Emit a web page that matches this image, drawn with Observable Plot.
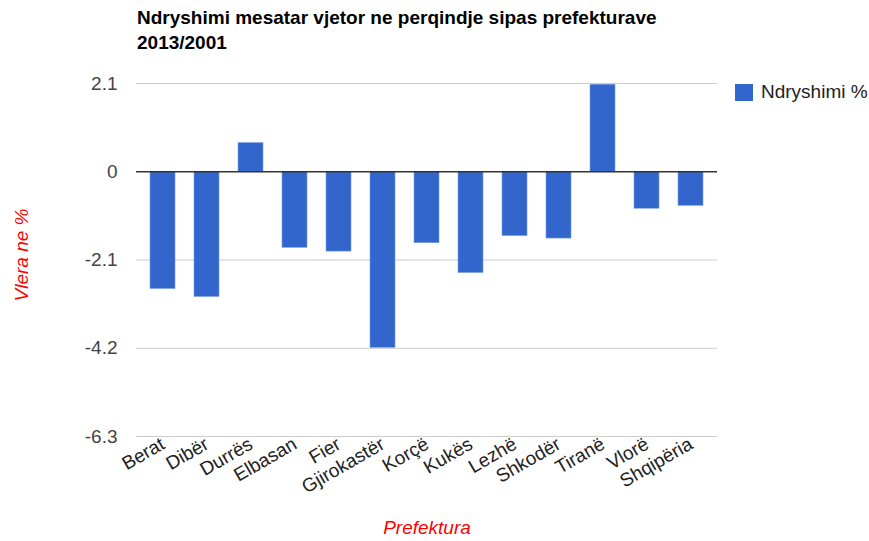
<!DOCTYPE html>
<html>
<head>
<meta charset="utf-8">
<script src="https://cdn.jsdelivr.net/npm/d3@7"></script>
<script src="https://cdn.jsdelivr.net/npm/@observablehq/plot@0.6"></script>
<style>
  html, body { margin: 0; padding: 0; background: #fff; }
  #wrap { position: relative; width: 869px; height: 541px; font-family: "Liberation Sans", Arial, sans-serif; }
  #title { position: absolute; left: 137px; top: 5px; font-size: 19px; font-weight: bold; line-height: 25px; color: #000; }
  #legend { position: absolute; left: 735px; top: 81px; display: flex; align-items: center; font-size: 19px; color: #222; }
  #legend .sw { width: 18px; height: 17px; background: #3366cc; margin-right: 8px; }
  #chart { position: absolute; left: 0; top: 0; }
</style>
</head>
<body>
<div id="wrap">
  <div id="chart"></div>
  <div id="title">Ndryshimi mesatar vjetor ne perqindje sipas prefekturave<br>2013/2001</div>
  <div id="legend"><div class="sw"></div><span>Ndryshimi %</span></div>
</div>
<script>
const categories = ["Berat","Dibër","Durrës","Elbasan","Fier","Gjirokastër","Korçë","Kukës","Lezhë","Shkodër","Tiranë","Vlorë","Shqipëria"];
const values = [-2.79, -2.98, 0.68, -1.81, -1.90, -4.19, -1.70, -2.41, -1.53, -1.59, 2.07, -0.88, -0.81];
const yTicks = [2.1, 0, -2.1, -4.2, -6.3];
const seriesName = "Ndryshimi %";
const xTitle = "Prefektura";
const yTitle = "Vlera ne %";

const data = categories.map((c, i) => ({prefektura: c, value: values[i]}));

const chart = Plot.plot({
  width: 869,
  height: 541,
  marginTop: 83,
  marginBottom: 105,
  marginLeft: 136,
  marginRight: 152,
  style: {fontFamily: "'Liberation Sans', Arial, sans-serif", fontSize: "19px", color: "#222", background: "transparent"},
  x: {domain: categories, paddingInner: 0.43, paddingOuter: 0.25, label: null},
  y: {domain: [-6.3, 2.1], label: null},
  marks: [
    Plot.ruleY(yTicks.filter(d => d !== 0), {stroke: "#cccccc", strokeWidth: 1, strokeOpacity: 1}),
    Plot.barY(data, {x: "prefektura", y: "value", fill: "#3366cc", stroke: "#7a9be0", strokeWidth: 0.6}),
    Plot.ruleY([0], {stroke: "#333333", strokeWidth: 1.5}),
    Plot.axisY({ticks: yTicks, tickSize: 0, tickPadding: 19, tickFormat: d => String(d), fontSize: 19, fill: "#444"}),
    Plot.axisX({tickSize: 0, tickRotate: -30, tickPadding: 6, fontSize: 19, fill: "#222"})
  ]
});
document.getElementById("chart").appendChild(chart);

const svg = d3.select(chart);
svg.append("text")
  .attr("x", 427).attr("y", 534)
  .attr("text-anchor", "middle")
  .attr("font-size", 19).attr("font-style", "italic").attr("fill", "#ff0000")
  .text(xTitle);
svg.append("text")
  .attr("transform", "translate(28,255) rotate(-90)")
  .attr("text-anchor", "middle")
  .attr("font-size", 19).attr("font-style", "italic").attr("fill", "#ff0000")
  .text(yTitle);
</script>
</body>
</html>
